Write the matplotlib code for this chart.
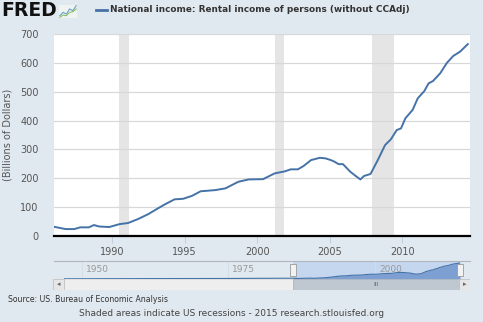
import matplotlib.pyplot as plt
from matplotlib.patches import Rectangle
import numpy as np

# quarterly-ish readings (decimal year, billions of dollars)
years = [1986.0, 1986.8, 1987.4, 1987.8, 1988.4, 1988.75, 1989.1, 1989.8,
         1990.5, 1991.1, 1991.8, 1992.5, 1993.2, 1993.65, 1994.3, 1994.9,
         1995.5, 1996.1, 1997.1, 1997.8, 1998.7, 1999.4, 2000.4, 2001.2,
         2001.9, 2002.3, 2002.8, 2003.2, 2003.7, 2004.3, 2004.7, 2005.07,
         2005.3, 2005.6, 2005.9, 2006.4, 2006.7, 2007.1, 2007.35, 2007.8,
         2008.3, 2008.8, 2009.2, 2009.6, 2009.9, 2010.2, 2010.7, 2011.05,
         2011.5, 2011.8, 2012.1, 2012.6, 2013.06, 2013.5, 2013.97, 2014.5]
values = [32, 24, 24, 30, 30, 38, 33, 31,
          41, 45, 59, 76, 97, 110, 127, 129,
          139, 155, 159, 165, 188, 196, 197, 217,
          224, 231, 231, 243, 263, 271, 269, 263,
          258, 249, 249, 223, 211, 196, 208, 215,
          263, 315, 335, 367, 373, 408, 437, 477,
          502, 529, 537, 564, 600, 624, 639, 665]

# earlier history only shown in the navigator
early_years = [1947, 1955, 1965, 1975, 1980, 1985]
early_values = [8, 13, 18, 22, 28, 32]

recessions = [(1990.5, 1991.15), (2001.2, 2001.85), (2007.92, 2009.4)]
yticks = [0, 100, 200, 300, 400, 500, 600, 700]
xticks = [1990, 1995, 2000, 2005, 2010]
nav_ticks = [1950, 1975, 2000]

bg = '#e1e9f0'
blue = '#4572a7'
W, H = 483, 322

fig = plt.figure(figsize=(W / 100, H / 100), dpi=100)
fig.patch.set_facecolor(bg)


def box(x0, y0, x1, y1):
    return [x0 / W, 1 - y1 / H, (x1 - x0) / W, (y1 - y0) / H]


# main chart
ax = fig.add_axes(box(54, 34, 470, 236))
ax.set_facecolor('white')
for a, b in recessions:
    ax.axvspan(a, b, color='#e5e5e5', lw=0, zorder=1)
ax.plot(years, values, color=blue, lw=1.4, zorder=3)
ax.set_xlim(1986.0, 2014.65)
ax.set_ylim(0, 700)
ax.set_yticks(yticks)
ax.set_xticks(xticks)
ax.grid(axis='y', color='#d8d8d8', lw=0.9, zorder=0)
for s in ['top', 'right', 'left']:
    ax.spines[s].set_visible(False)
ax.spines['bottom'].set_color('black')
ax.spines['bottom'].set_linewidth(1.6)
ax.tick_params(axis='y', length=0, pad=11, labelsize=7, labelcolor='#555555')
ax.tick_params(axis='x', length=5, width=0.8, color='#c0d0e0', pad=3,
               labelsize=7, labelcolor='#555555')
ax.set_ylabel('(Billions of Dollars)', fontsize=7, color='#555555')
ax.yaxis.set_label_coords(-(54 - 13) / 416, 0.5)

# header
fig.text(1 / W, 1 - 11 / H, 'FRED', fontsize=13.5, fontweight='heavy',
         color='#111111', va='center', ha='left')
fig.add_artist(plt.Line2D([96 / W, 107 / W], [1 - 10 / H, 1 - 10 / H],
                          color=blue, lw=2))
fig.text(110 / W, 1 - 10 / H,
         'National income: Rental income of persons (without CCAdj)',
         fontsize=6.4, fontweight='bold', color='#333333', va='center')
icon = fig.add_axes(box(59, 5, 77, 18))
icon.set_facecolor('#f0f4f0')
icon.plot([0, 1, 2, 3, 4, 5], [1, 2, 1.5, 3, 2.5, 4], color='#6aa0c8', lw=0.8)
icon.plot([0, 1, 2, 3, 4, 5], [0.5, 1.2, 1, 2, 2.2, 3], color='#8fbf6a', lw=0.8)
icon.set_xticks([])
icon.set_yticks([])
for s in icon.spines.values():
    s.set_visible(False)

# navigator
fig.add_artist(plt.Line2D([54 / W, 470 / W], [1 - 261 / H, 1 - 261 / H],
                          color='#b2b6bc', lw=0.8))
nav = fig.add_axes(box(64, 262, 460, 279))
nav.set_facecolor('none')
nyears = early_years + years
nvals = early_values + values
nav.axvspan(1986.0, 2014.5, color='#c4d7ef', lw=0, zorder=0)
nav.fill_between(nyears, 0, nvals, color='#7e9fd1', alpha=0.35, lw=0, zorder=1)
sel = [y >= 1986 for y in nyears]
nav.fill_between(nyears, 0, nvals, where=sel, color='#7e9fd1', lw=0, zorder=1)
nav.plot(nyears, nvals, color=blue, lw=0.8, zorder=2)
nav.set_xlim(1947, 2014.5)
nav.set_ylim(0, 700)
for t in nav_ticks:
    nav.axvline(t, color='#d8dde3', lw=0.7, zorder=0)
    nav.text(t + 0.7, 200, str(t), fontsize=6.5, color='#999999',
             va='bottom', ha='left', zorder=3)
nav.set_xticks([])
nav.set_yticks([])
for s in nav.spines.values():
    s.set_visible(False)
for hx in [1986.0, 2014.5]:
    nav.add_patch(Rectangle((hx - 0.5, 120), 1.0, 480, facecolor='#f2f2f2',
                            edgecolor='#999999', lw=0.6, zorder=4,
                            clip_on=False))

# scrollbar
sb = fig.add_axes(box(53, 279, 470, 290))
sb.set_xlim(53, 470)
sb.set_ylim(0, 1)
sb.axis('off')
sb.add_patch(Rectangle((64, 0), 229, 1, facecolor='#eeeeee', edgecolor='#dddddd', lw=0.5))
sb.add_patch(Rectangle((293, 0), 167, 1, facecolor='#bfc8d1', edgecolor='#aab3bc', lw=0.5))
sb.add_patch(Rectangle((53, 0), 11, 1, facecolor='#e6e6e6', edgecolor='#bbbbbb', lw=0.5))
sb.add_patch(Rectangle((459, 0), 11, 1, facecolor='#e6e6e6', edgecolor='#bbbbbb', lw=0.5))
sb.text(58.5, 0.5, '\u25c2', fontsize=5, ha='center', va='center', color='#666666')
sb.text(464.5, 0.5, '\u25b8', fontsize=5, ha='center', va='center', color='#666666')
sb.text(376.5, 0.5, 'III', fontsize=4.5, ha='center', va='center', color='#666666')

# footer
fig.text(8 / W, 1 - 300 / H, 'Source: US. Bureau of Economic Analysis',
         fontsize=5.6, color='#333333', va='center')
fig.text(232 / W, 1 - 314 / H,
         'Shaded areas indicate US recessions - 2015 research.stlouisfed.org',
         fontsize=6.45, color='#444444', va='center', ha='center')

fig.savefig('out.png', dpi=100, facecolor=bg)
